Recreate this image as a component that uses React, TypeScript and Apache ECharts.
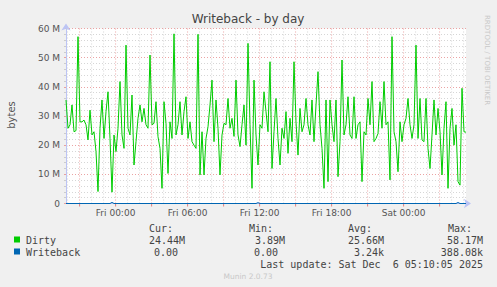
import React, { useEffect, useRef } from 'react';
import * as echarts from 'echarts';

// time in minutes counted from Thu 00:00
const START_MIN = 1192;
const END_MIN = 3192;
const STEP_MIN = 10;

// Dirty bytes (millions), one sample every 10 minutes
const dirty = [
  35.5, 25.8, 27, 33.8, 24.6, 25, 57.2, 28, 28, 28.6,
  27, 21.8, 32, 23.5, 24.6, 17.8, 4.1, 25.8, 35.5, 22.3,
  31.5, 38.3, 22.3, 3.89, 23.5, 17.8, 25.8, 41.8, 23.5, 18.9,
  54.3, 25.8, 23.5, 37.2, 13.2, 21.2, 29.2, 33.8, 28, 32.6,
  27, 25.8, 50.9, 27, 27.5, 34.9, 22.9, 18.9, 5.2, 34.9,
  27.5, 10.3, 28, 22.3, 58.17, 23.5, 27, 34.9, 23.5, 31.5,
  36.6, 22.3, 28, 21.2, 20, 18.9, 58.0, 9.8, 24.6, 9.8,
  22.3, 26.3, 33.8, 42.3, 21.2, 35.5, 25.8, 9.8, 23.5, 27.5,
  27, 36, 25.8, 29.2, 23, 42.3, 23.5, 19.5, 27, 33.8,
  20, 54.9, 27, 5.2, 42.3, 23.5, 13.2, 27, 25.8, 38.3,
  31.5, 24.6, 48.6, 12, 24.6, 36, 22.3, 13.2, 25.8, 22.3,
  31.5, 17.2, 29.2, 21.2, 48.6, 28, 16.6, 32.6, 24.6, 27,
  36, 27, 23.5, 35.5, 21.2, 33.8, 45.2, 27, 18.9, 5.2,
  35.5, 7.5, 35.5, 27, 21.2, 35.5, 9.2, 21.2, 49.2, 23.5,
  27, 36.6, 23.5, 22.3, 36.6, 22.3, 27, 28, 7.5, 24.6,
  23.5, 36, 27, 41.8, 21.2, 22.3, 24, 34.9, 25.8, 41.8,
  27, 28, 8.1, 57.2, 24.6, 21.2, 10.9, 28, 21.2, 27,
  29.2, 36, 27, 22.3, 27, 54.3, 22.3, 36, 21.8, 21.2,
  36, 18.9, 12, 23.5, 35.5, 23.5, 32.6, 24.6, 9.8, 25.8,
  34.9, 5.2, 25.8, 32.6, 20, 27, 7.5, 6.3, 39.5, 24.6,
  24.44,
];

// Writeback bytes (millions)
const writeback = [
  0, 0, 0, 0, 0, 0, 0, 0, 0, 0, 0, 0, 0, 0, 0, 0, 0, 0, 0, 0,
  0, 0, 0, 0.39, 0, 0, 0, 0, 0, 0, 0, 0, 0, 0, 0, 0, 0, 0, 0, 0,
  0, 0, 0, 0, 0, 0, 0, 0, 0, 0, 0, 0, 0, 0, 0, 0, 0, 0, 0, 0,
  0, 0, 0, 0, 0, 0, 0, 0, 0, 0, 0, 0, 0, 0, 0, 0, 0, 0, 0, 0,
  0, 0, 0, 0, 0, 0, 0, 0, 0, 0, 0, 0, 0, 0, 0, 0, 0.3, 0, 0, 0,
  0, 0, 0, 0, 0, 0, 0, 0, 0, 0, 0, 0, 0, 0, 0, 0, 0, 0, 0, 0,
  0, 0, 0, 0, 0, 0, 0, 0, 0, 0, 0, 0, 0, 0, 0, 0, 0, 0, 0, 0,
  0, 0, 0, 0, 0, 0, 0, 0, 0, 0, 0, 0, 0, 0, 0, 0, 0, 0, 0, 0,
  0, 0, 0, 0, 0, 0, 0, 0, 0, 0, 0, 0, 0, 0, 0, 0, 0, 0, 0, 0,
  0, 0, 0, 0, 0, 0, 0, 0, 0, 0, 0, 0, 0, 0, 0, 0, 0.35, 0, 0, 0,
  0,
];

const xLabelTimes = [1440, 1800, 2160, 2520, 2880];
const xLabelTexts = ['Fri 00:00', 'Fri 06:00', 'Fri 12:00', 'Fri 18:00', 'Sat 00:00'];

const legendNames = ['Dirty', 'Writeback'];
const legendColors = ['#00CC00', '#0066B3'];
const curVals = ['24.44M', '0.00'];
const minVals = ['3.89M', '0.00'];
const avgVals = ['25.66M', '3.24k'];
const maxVals = ['58.17M', '388.08k'];

const FONT = 'DejaVu Sans';
const MONO = 'DejaVu Sans Mono';
const AXIS_COLOR = '#BCC4F4';

export default function App() {
  const ref = useRef<HTMLDivElement>(null);

  useEffect(() => {
    document.body.style.margin = '0';
    if (!ref.current) return;
    const chart = echarts.init(ref.current, null, { renderer: 'svg' });

    const dirtyData = dirty.map((v, i) => [START_MIN + i * STEP_MIN, v]);
    const wbData = writeback.map((v, i) => [START_MIN + i * STEP_MIN, v]);

    const gridLines: number[][] = [];
    for (let t = 1200; t <= END_MIN; t += 60) {
      gridLines.push([t, t % 180 === 0 ? 1 : 0]);
    }

    const legendText: any[] = [];
    const rowY = [240, 252];
    const colRight = [
      [185, 178],
      [285, 278],
      [384, 384],
      [483, 483],
    ];
    const cols = [curVals, minVals, avgVals, maxVals];
    ['Cur:', 'Min:', 'Avg:', 'Max:'].forEach((h, i) => {
      legendText.push({
        type: 'text', x: [149, 249, 348, 448][i], y: 228,
        style: { text: h, font: `10px "${MONO}"`, fill: '#444', textAlign: 'left', textVerticalAlign: 'middle' },
      });
    });
    legendNames.forEach((n, r) => {
      legendText.push({
        type: 'rect', shape: { x: 14, y: rowY[r] - 3.5, width: 6, height: 6 },
        style: { fill: legendColors[r] },
      });
      legendText.push({
        type: 'text', x: 26, y: rowY[r],
        style: { text: n, font: `10px "${MONO}"`, fill: '#444', textAlign: 'left', textVerticalAlign: 'middle' },
      });
      cols.forEach((c, ci) => {
        legendText.push({
          type: 'text', x: colRight[ci][r], y: rowY[r],
          style: { text: c[r], font: `10px "${MONO}"`, fill: '#444', textAlign: 'right', textVerticalAlign: 'middle' },
        });
      });
    });

    chart.setOption({
      animation: false,
      backgroundColor: '#F0F0F0',
      grid: {
        left: 66, right: 31, top: 28.5, height: 175,
        show: true, backgroundColor: '#FFFFFF', borderWidth: 0,
      },
      xAxis: {
        type: 'value', min: START_MIN, max: END_MIN,
        axisLine: { show: true, lineStyle: { color: AXIS_COLOR, width: 1 }, symbol: ['none', 'arrow'], symbolSize: [7, 7], symbolOffset: [0, 5] },
        axisTick: { show: false },
        splitLine: { show: false },
        axisLabel: {
          customValues: xLabelTimes,
          formatter: (v: number) => xLabelTexts[xLabelTimes.indexOf(v)] ?? '',
          color: '#555', fontFamily: FONT, fontSize: 9, margin: 5,
        },
      },
      yAxis: {
        type: 'value', min: 0, max: 60, interval: 10,
        axisLine: { show: true, lineStyle: { color: AXIS_COLOR, width: 1 }, symbol: ['none', 'arrow'], symbolSize: [7, 7], symbolOffset: [0, 5] },
        axisTick: { show: true, length: 2, lineStyle: { color: '#E8A0A0' } },
        minorTick: { show: true, splitNumber: 5, length: 2, lineStyle: { color: '#CCCCCC' } },
        splitLine: { show: true, lineStyle: { color: '#EBA3A3', type: [1, 2], width: 1 } },
        minorSplitLine: { show: true, lineStyle: { color: '#D6D6D6', type: [1, 2], width: 1 } },
        axisLabel: {
          formatter: (v: number) => (v === 0 ? '0' : `${v} M`),
          color: '#555', fontFamily: FONT, fontSize: 9, margin: 6,
        },
      },
      series: [
        {
          type: 'custom', z: 1, clip: false, silent: true,
          data: gridLines,
          renderItem: (params: any, api: any) => {
            const t = api.value(0);
            const major = api.value(1) === 1;
            const top = api.coord([t, 60]);
            const bot = api.coord([t, 0]);
            const children: any[] = [{
              type: 'line',
              shape: { x1: top[0], y1: top[1], x2: bot[0], y2: bot[1] },
              style: { stroke: major ? '#EBA3A3' : '#D6D6D6', lineWidth: 1, lineDash: [1, 2] },
            }];
            if (major) {
              children.push({
                type: 'line',
                shape: { x1: bot[0], y1: bot[1], x2: bot[0], y2: bot[1] + 3 },
                style: { stroke: '#E08080', lineWidth: 1 },
              });
            }
            return { type: 'group', children };
          },
        },
        {
          name: 'Dirty', type: 'line', z: 3, data: dirtyData, showSymbol: false,
          lineStyle: { color: '#00CC00', width: 1 }, itemStyle: { color: '#00CC00' },
        },
        {
          name: 'Writeback', type: 'line', z: 4, data: wbData, showSymbol: false,
          lineStyle: { color: '#0066B3', width: 1 }, itemStyle: { color: '#0066B3' },
        },
      ],
      graphic: [
        {
          type: 'text', x: 248, y: 19,
          style: { text: 'Writeback - by day', font: `12px "${FONT}"`, fill: '#444', textAlign: 'center', textVerticalAlign: 'middle' },
        },
        {
          type: 'text', x: 11, y: 115, rotation: Math.PI / 2,
          style: { text: 'bytes', font: `10px "${FONT}"`, fill: '#555', textAlign: 'center', textVerticalAlign: 'middle' },
        },
        {
          type: 'text', x: 487, y: 15, rotation: -Math.PI / 2,
          style: { text: 'RRDTOOL / TOBI OETIKER', font: `7px "${FONT}"`, fill: '#C8C8C8', textAlign: 'left', textVerticalAlign: 'middle' },
        },
        ...legendText,
        {
          type: 'text', x: 483, y: 264,
          style: { text: 'Last update: Sat Dec  6 05:10:05 2025', font: `10px "${MONO}"`, fill: '#444', textAlign: 'right', textVerticalAlign: 'middle' },
        },
        {
          type: 'text', x: 248, y: 276,
          style: { text: 'Munin 2.0.73', font: `7.5px "${FONT}"`, fill: '#C8C8C8', textAlign: 'center', textVerticalAlign: 'middle' },
        },
      ],
    });

    return () => chart.dispose();
  }, []);

  return <div ref={ref} style={{ width: 497, height: 287, background: '#F0F0F0' }} />;
}
